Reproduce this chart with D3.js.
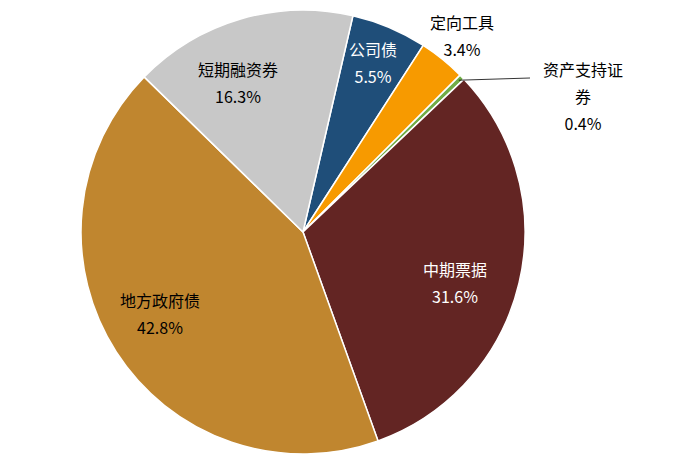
<!DOCTYPE html>
<html><head><meta charset="utf-8">
<script src="https://cdn.jsdelivr.net/npm/d3@7"></script>
<style>body{margin:0;background:#fff}</style>
</head><body><svg width="700" height="469"></svg>
<script>
var names=["公司债","定向工具","资产支持证券","中期票据","地方政府债","短期融资券"];
var values=[5.5,3.4,0.4,31.6,42.8,16.3];
var colors=["#1F4E79","#F79A00","#70AD47","#632523","#C0862F","#C8C8C8"];

var svg=d3.select("svg");
var cx=303,cy=232,r=222;
var start=13*Math.PI/180;
var pie=d3.pie().sort(null).startAngle(start).endAngle(start+2*Math.PI);
var arcs=pie(values);
var arc=d3.arc().innerRadius(0).outerRadius(r);
var g=svg.append("g").attr("transform","translate("+cx+","+cy+")");
g.selectAll("path").data(arcs).enter().append("path")
	.attr("d",arc).attr("fill",(d,i)=>colors[i])
	.attr("stroke","#fff").attr("stroke-width",1.5);

// leader for the tiny slice
var a=(arcs[2].startAngle+arcs[2].endAngle)/2;
g.append("line")
	.attr("x1",Math.sin(a)*r*0.98).attr("y1",-Math.cos(a)*r*0.98)
	.attr("x2",530-cx).attr("y2",78-cy)
	.attr("stroke","#000").attr("stroke-width",0.8);

var labels=[
	{t:["公司债","5.5%"],x:373,y:52,c:"#fff"},
	{t:["定向工具","3.4%"],x:462,y:25,c:"#000"},
	{t:["资产支持证","券","0.4%"],x:583,y:72,c:"#000"},
	{t:["中期票据","31.6%"],x:455,y:272,c:"#fff"},
	{t:["地方政府债","42.8%"],x:160,y:303,c:"#000"},
	{t:["短期融资券","16.3%"],x:238,y:72,c:"#000"}
];
labels.forEach(function(l){
	l.t.forEach(function(s,k){
		svg.append("text").attr("x",l.x).attr("y",l.y+k*27)
			.attr("text-anchor","middle").attr("dominant-baseline","middle")
			.style("font-family","'Noto Sans CJK SC',sans-serif").style("font-size","16px")
			.attr("fill",l.c).text(s);
	});
});
</script></body></html>
